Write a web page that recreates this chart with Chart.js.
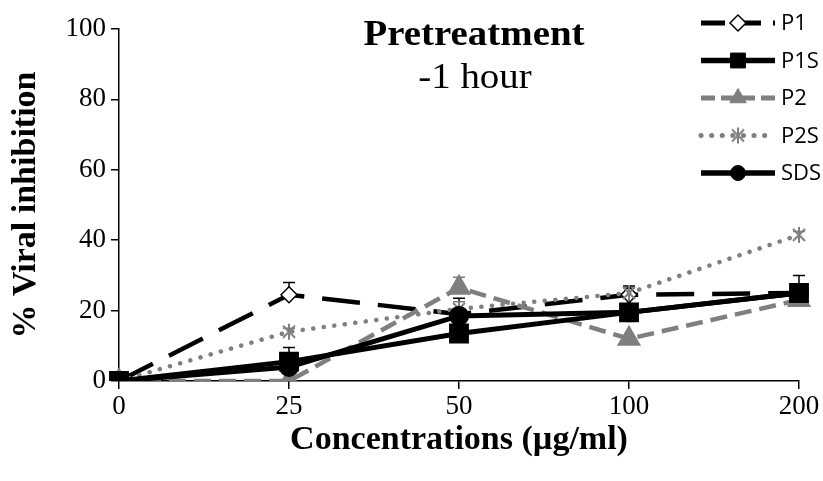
<!DOCTYPE html>
<html>
<head>
<meta charset="utf-8">
<script src="https://cdn.jsdelivr.net/npm/chart.js@4.4.0/dist/chart.umd.min.js"></script>
<style>
  html, body { margin: 0; padding: 0; background: #fff; }
</style>
</head>
<body>
<canvas id="myChart" width="823" height="481"></canvas>
<script>
// concentrations (µg/ml)
const concentrations = ['0', '25', '50', '100', '200'];
const yTicks = [0, 20, 40, 60, 80, 100];

// % viral inhibition
const p1   = [0, 24.5, 19, 24.5, 25];
const p1s  = [0, 5.5, 13.5, 19.5, 25];
const p2   = [0, 0, 26.5, 12, 23];
const p2s  = [0, 14, 20.5, 25, 41.5];
const sds  = [0, 4, 18.5, 19.5, 25];

// error bars (only the upper part is drawn)
const p1Err  = [0, 3.5, 1.5, 2.5, 1.5];
const p1sErr = [0, 4, 1, 1, 5];
const p2Err  = [0, 0, 3, 0, 1];
const p2sErr = [0, 1, 2, 1.5, 1];
const sdsErr = [0, 0.5, 5, 1, 1];

const gray = '#7f7f7f';

// excel style asterisk marker
function asterisk(color) {
  let c = document.createElement('canvas');
  c.width = 18; c.height = 18;
  let g = c.getContext('2d');
  g.strokeStyle = color;
  g.lineWidth = 2;
  g.beginPath();
  g.moveTo(3, 3); g.lineTo(15, 15);
  g.moveTo(15, 3); g.lineTo(3, 15);
  g.moveTo(9, 1); g.lineTo(9, 17);
  g.stroke();
  return c;
}
const starMark = asterisk(gray);

const errorBars = {
  id: 'errorBars',
  beforeDatasetsDraw(chart) {
    const ctx = chart.ctx;
    const y = chart.scales.y;
    chart.data.datasets.forEach((ds, i) => {
      const meta = chart.getDatasetMeta(i);
      ctx.save();
      ctx.strokeStyle = ds.errColor;
      ctx.lineWidth = 1.5;
      meta.data.forEach((pt, j) => {
        const e = ds.err[j];
        if (!e) return;
        const top = y.getPixelForValue(ds.data[j] + e);
        ctx.beginPath();
        ctx.moveTo(pt.x, top); ctx.lineTo(pt.x, pt.y);
        ctx.moveTo(pt.x - 6, top); ctx.lineTo(pt.x + 6, top);
        ctx.stroke();
      });
      ctx.restore();
    });
  }
};

// stretched text like the picture
function wideText(ctx, txt, x, y, sx) {
  ctx.save();
  ctx.translate(x, y);
  ctx.scale(sx, 1);
  ctx.fillText(txt, 0, 0);
  ctx.restore();
}

const extras = {
  id: 'extras',
  afterDraw(chart) {
    const ctx = chart.ctx;
    ctx.save();
    ctx.fillStyle = '#000';
    ctx.textAlign = 'center';
    ctx.textBaseline = 'middle';
    ctx.font = 'bold 36px "Liberation Serif"';
    wideText(ctx, 'Pretreatment', 474, 36, 1.08);
    ctx.font = '36px "Liberation Serif"';
    wideText(ctx, '-1 hour', 475, 79, 1.08);

    // legend
    let ly = 23;
    chart.data.datasets.forEach((ds) => {
      ctx.save();
      ctx.strokeStyle = ds.borderColor;
      ctx.lineWidth = ds.borderWidth + 0.5;
      ctx.lineCap = ds.borderCapStyle || 'butt';
      ctx.setLineDash(ds.legendDash || []);
      ctx.beginPath();
      ctx.moveTo(701, ly); ctx.lineTo(775, ly);
      ctx.stroke();
      ctx.fillStyle = ds.pointBackgroundColor;
      ctx.strokeStyle = ds.pointBorderColor;
      ctx.lineWidth = ds.pointBorderWidth || 1;
      ctx.setLineDash([]);
      Chart.helpers.drawPoint(ctx, {
        pointStyle: ds.pointStyle,
        radius: ds.pointRadius,
        borderWidth: ds.pointBorderWidth || 1,
        rotation: 0
      }, 738, ly);
      ctx.restore();
      ctx.fillStyle = '#000';
      ctx.textAlign = 'left';
      ctx.font = '22px "Open Sans"';
      ctx.fillText(ds.label, 781, ly + 1);
      ly += 37.5;
    });
    ctx.restore();
  }
};

const ctx = document.getElementById('myChart').getContext('2d');

const chart = new Chart(ctx, {
  type: 'line',
  data: {
    labels: concentrations,
    datasets: [
      {
        label: 'P1', data: p1, err: p1Err, errColor: '#000', order: 5,
        borderColor: '#000', borderWidth: 4.5, borderDash: [38, 18], legendDash: [24, 12],
        pointStyle: 'rectRot', pointRadius: 8, pointBackgroundColor: '#fff',
        pointBorderColor: '#000', pointBorderWidth: 1.5
      },
      {
        label: 'P1S', data: p1s, err: p1sErr, errColor: '#000', order: 1,
        borderColor: '#000', borderWidth: 5,
        pointStyle: 'rect', pointRadius: 10.5, pointBackgroundColor: '#000',
        pointBorderColor: '#000'
      },
      {
        label: 'P2', data: p2, err: p2Err, errColor: gray, order: 4,
        borderColor: gray, borderWidth: 4.5, borderDash: [17, 8], legendDash: [14, 6],
        pointStyle: 'triangle', pointRadius: 9.5, pointBackgroundColor: gray,
        pointBorderColor: gray
      },
      {
        label: 'P2S', data: p2s, err: p2sErr, errColor: gray, order: 3,
        borderColor: gray, borderWidth: 4.5, borderDash: [0.1, 10.5], legendDash: [0.1, 10.5],
        borderCapStyle: 'round',
        pointStyle: starMark, pointRadius: 9, pointBackgroundColor: gray,
        pointBorderColor: gray
      },
      {
        label: 'SDS', data: sds, err: sdsErr, errColor: '#000', order: 2,
        borderColor: '#000', borderWidth: 5,
        pointStyle: 'circle', pointRadius: 7.5, pointBackgroundColor: '#000',
        pointBorderColor: '#000'
      }
    ]
  },
  options: {
    responsive: false,
    animation: false,
    layout: { padding: { top: 29, right: 24, left: 0, bottom: 0 } },
    plugins: {
      legend: { display: false },
      tooltip: { enabled: false }
    },
    elements: { line: { tension: 0 } },
    scales: {
      x: {
        offset: false,
        grid: { drawOnChartArea: false, color: '#000', tickLength: 8, lineWidth: 1.5 },
        border: { color: '#000', width: 1.5 },
        ticks: { color: '#000', font: { family: 'Liberation Serif', size: 27 }, padding: 2, maxRotation: 0 },
        title: {
          display: true, text: 'Concentrations (µg/ml)', color: '#000',
          font: { family: 'Liberation Serif', size: 34, weight: 'bold', lineHeight: 1 },
          padding: { top: 0, bottom: 24 }
        },
        afterFit(s) { s.height = 100; }
      },
      y: {
        min: 0, max: 100,
        afterBuildTicks(s) { s.ticks = yTicks.map(v => ({ value: v })); },
        grid: { drawOnChartArea: false, color: '#000', tickLength: 8, lineWidth: 1.5 },
        border: { color: '#000', width: 1.5 },
        ticks: { color: '#000', font: { family: 'Liberation Serif', size: 27 }, padding: 5 },
        title: {
          display: true, text: '% Viral inhibition', color: '#000',
          font: { family: 'Liberation Serif', size: 34, weight: 'bold', lineHeight: 1 },
          padding: { top: 9, bottom: 0 }
        },
        afterFit(s) { s.width = 119; }
      }
    }
  },
  plugins: [errorBars, extras]
});
</script>
</body>
</html>
